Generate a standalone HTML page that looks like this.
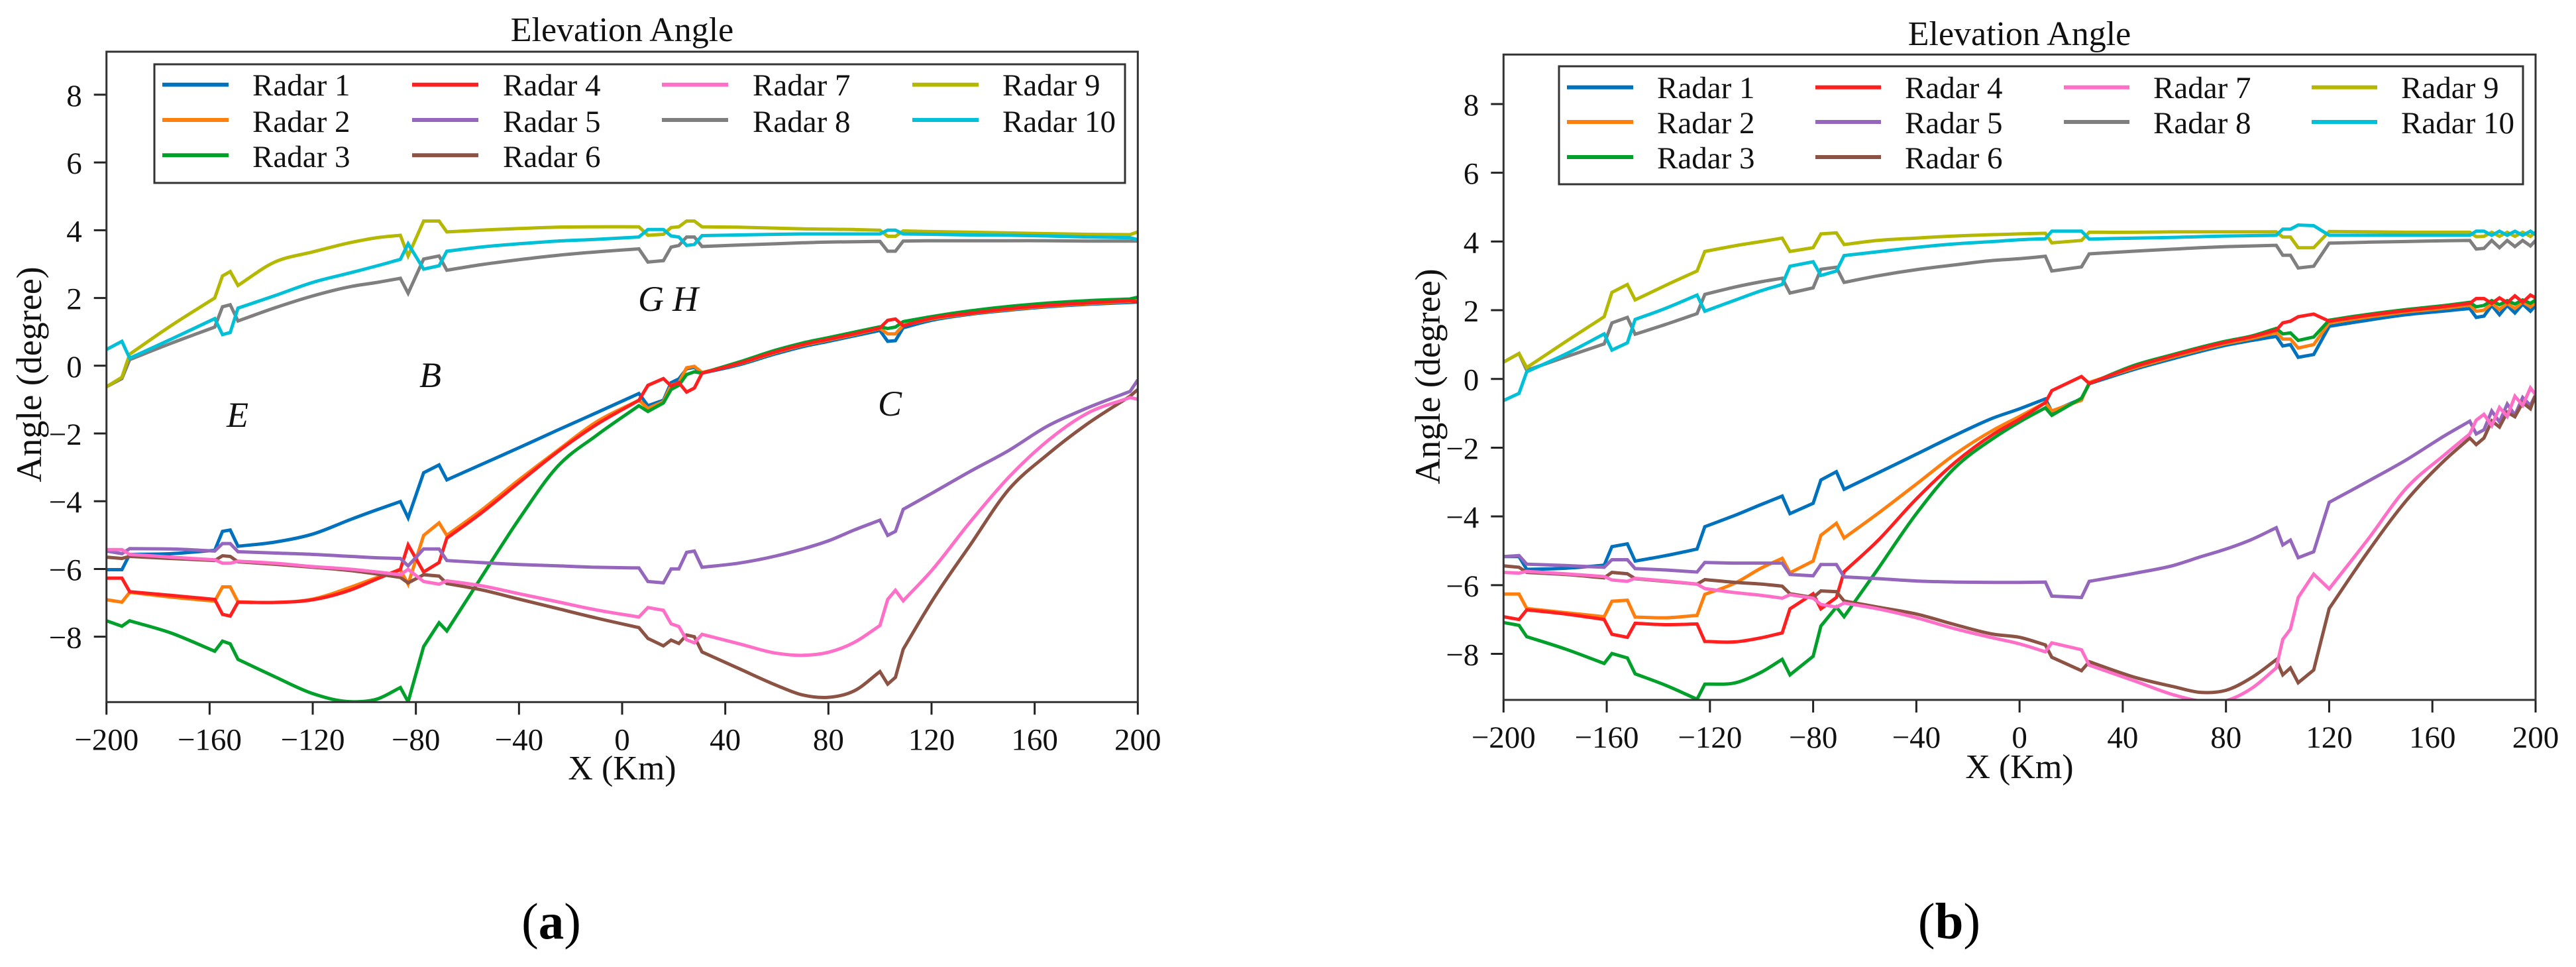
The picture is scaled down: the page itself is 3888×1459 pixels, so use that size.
<!DOCTYPE html>
<html lang="en">
<head>
<meta charset="utf-8">
<title>Elevation Angle</title>
<style>
html,body{margin:0;padding:0;background:#fff;}
svg{display:block;}
text{font-family:"Liberation Serif",serif;fill:#111;}
.tick{font-size:47px;}
.ttl{font-size:52px;text-anchor:middle;}
.leg{font-size:47px;}
.ann{font-size:54px;font-style:italic;}
.cap{font-size:77px;text-anchor:middle;fill:#000;}
.frame{fill:none;stroke:#333;stroke-width:3;}
.legbox{fill:#fff;stroke:#333;stroke-width:3;}
.hd{stroke-width:6;}
</style>
</head>
<body>
<svg id="chart" xmlns="http://www.w3.org/2000/svg" width="3888" height="1459" viewBox="0 0 3888 1459">
<rect width="3888" height="1459" fill="#fff"/>
<defs>
<clipPath id="clip-a"><rect x="160.7" y="78" width="1556.6" height="981.3"/></clipPath>
<clipPath id="clip-b"><rect x="2269.3" y="82.3" width="1557.7" height="973.7"/></clipPath>
</defs>

<g id="panel-a">
<text class="ttl" x="939" y="62">Elevation Angle</text>
<g id="a-ticks"></g>
<g id="a-lines" clip-path="url(#clip-a)"></g>
<rect class="frame" x="160.7" y="78" width="1556.6" height="981.3"/>
<text class="ttl" x="939" y="1176">X (Km)</text>
<text class="ttl" style="font-size:54px" transform="translate(62,565) rotate(-90)">Angle (degree)</text>
<text class="ann" x="342" y="644">E</text>
<text class="ann" x="633" y="584">B</text>
<text class="ann" x="963" y="469">G</text>
<text class="ann" x="1015" y="469">H</text>
<text class="ann" x="1325" y="627">C</text>
<g>
<rect class="legbox" x="233" y="97" width="1465" height="179"/>
<g><line class="hd" x1="245" x2="345" y1="127.7" y2="127.7" stroke="#0072bd"/><text class="leg" x="381" y="144">Radar 1</text></g>
<g><line class="hd" x1="245" x2="345" y1="181" y2="181" stroke="#ff7f0e"/><text class="leg" x="381" y="199">Radar 2</text></g>
<g><line class="hd" x1="245" x2="345" y1="234.3" y2="234.3" stroke="#00a02a"/><text class="leg" x="381" y="252">Radar 3</text></g>
<g><line class="hd" x1="622" x2="722" y1="127.7" y2="127.7" stroke="#ff1f1f"/><text class="leg" x="759" y="144">Radar 4</text></g>
<g><line class="hd" x1="622" x2="722" y1="181" y2="181" stroke="#9467bd"/><text class="leg" x="759" y="199">Radar 5</text></g>
<g><line class="hd" x1="622" x2="722" y1="234.3" y2="234.3" stroke="#8c5244"/><text class="leg" x="759" y="252">Radar 6</text></g>
<g><line class="hd" x1="999" x2="1099" y1="127.7" y2="127.7" stroke="#ff6ec7"/><text class="leg" x="1136" y="144">Radar 7</text></g>
<g><line class="hd" x1="999" x2="1099" y1="181" y2="181" stroke="#7f7f7f"/><text class="leg" x="1136" y="199">Radar 8</text></g>
<g><line class="hd" x1="1377" x2="1477" y1="127.7" y2="127.7" stroke="#b5b800"/><text class="leg" x="1513" y="144">Radar 9</text></g>
<g><line class="hd" x1="1377" x2="1477" y1="181" y2="181" stroke="#00c0d8"/><text class="leg" x="1513" y="199">Radar 10</text></g>
</g>
<text class="cap" x="832" y="1416">(<tspan font-weight="bold">a</tspan>)</text>
</g>

<g id="panel-b">
<text class="ttl" x="3048" y="68">Elevation Angle</text>
<g id="b-ticks"></g>
<g id="b-lines" clip-path="url(#clip-b)"></g>
<rect class="frame" x="2269.3" y="82.3" width="1557.7" height="973.7"/>
<text class="ttl" x="3048" y="1174">X (Km)</text>
<text class="ttl" style="font-size:54px" transform="translate(2173,568) rotate(-90)">Angle (degree)</text>
<g>
<rect class="legbox" x="2353" y="100" width="1455" height="178"/>
<g><line class="hd" x1="2365" x2="2465" y1="131.7" y2="131.7" stroke="#0072bd"/><text class="leg" x="2501" y="148">Radar 1</text></g>
<g><line class="hd" x1="2365" x2="2465" y1="184" y2="184" stroke="#ff7f0e"/><text class="leg" x="2501" y="201">Radar 2</text></g>
<g><line class="hd" x1="2365" x2="2465" y1="237" y2="237" stroke="#00a02a"/><text class="leg" x="2501" y="254">Radar 3</text></g>
<g><line class="hd" x1="2740" x2="2839" y1="131.7" y2="131.7" stroke="#ff1f1f"/><text class="leg" x="2875" y="148">Radar 4</text></g>
<g><line class="hd" x1="2740" x2="2839" y1="184" y2="184" stroke="#9467bd"/><text class="leg" x="2875" y="201">Radar 5</text></g>
<g><line class="hd" x1="2740" x2="2839" y1="237" y2="237" stroke="#8c5244"/><text class="leg" x="2875" y="254">Radar 6</text></g>
<g><line class="hd" x1="3115" x2="3214" y1="131.7" y2="131.7" stroke="#ff6ec7"/><text class="leg" x="3250" y="148">Radar 7</text></g>
<g><line class="hd" x1="3115" x2="3214" y1="184" y2="184" stroke="#7f7f7f"/><text class="leg" x="3250" y="201">Radar 8</text></g>
<g><line class="hd" x1="3489" x2="3588" y1="131.7" y2="131.7" stroke="#b5b800"/><text class="leg" x="3624" y="148">Radar 9</text></g>
<g><line class="hd" x1="3489" x2="3588" y1="184" y2="184" stroke="#00c0d8"/><text class="leg" x="3624" y="201">Radar 10</text></g>
</g>
<text class="cap" x="2942" y="1416">(<tspan font-weight="bold">b</tspan>)</text>
</g>
</svg>

<script>
const xTickValues = [-200,-160,-120,-80,-40,0,40,80,120,160,200];
const yTickValues = [-8,-6,-4,-2,0,2,4,6,8];

const kmA = [-200,-194,-191,-175,-158,-155,-152,-149,-135,-120,-105,-95,-86,-83,-77,-71,-68,-55,-40,-25,-10,6.5,10,16,19,22,25,28,31,45,60,70,80,90,100,103,106,109,120,135,150,165,180,197,200];
const radar1A = [-6.02,-6.02,-5.57,-5.55,-5.45,-4.89,-4.85,-5.33,-5.21,-4.97,-4.53,-4.25,-4.01,-4.49,-3.16,-2.93,-3.37,-2.93,-2.42,-1.9,-1.39,-0.82,-1.18,-1.02,-0.5,-0.39,-0.09,-0.05,-0.22,0.02,0.36,0.56,0.72,0.88,1.04,0.72,0.74,1.12,1.34,1.52,1.64,1.74,1.81,1.87,1.88];
const radar2A = [-6.91,-6.98,-6.69,-6.83,-6.95,-6.53,-6.53,-6.97,-6.99,-6.89,-6.53,-6.25,-6.03,-6.45,-5.01,-4.64,-5.01,-4.29,-3.37,-2.5,-1.66,-1.02,-1.26,-1.06,-0.58,-0.5,-0.06,-0.02,-0.2,0.05,0.4,0.6,0.76,0.92,1.1,0.94,0.94,1.19,1.38,1.54,1.66,1.76,1.83,1.9,1.92];
const radar3A = [-7.53,-7.69,-7.53,-7.89,-8.43,-8.13,-8.21,-8.67,-9.17,-9.68,-9.92,-9.84,-9.5,-9.92,-8.29,-7.59,-7.83,-6.29,-4.53,-2.97,-2.06,-1.18,-1.35,-1.1,-0.7,-0.58,-0.26,-0.18,-0.22,0.1,0.47,0.67,0.83,0.99,1.15,1.1,1.14,1.3,1.45,1.62,1.75,1.85,1.92,1.97,2.02];
const radar4A = [-6.27,-6.27,-6.67,-6.78,-6.9,-7.34,-7.39,-6.98,-6.99,-6.91,-6.61,-6.29,-6.01,-5.29,-6.09,-5.81,-5.09,-4.37,-3.45,-2.54,-1.74,-1.02,-0.58,-0.38,-0.6,-0.5,-0.78,-0.66,-0.22,0.06,0.42,0.62,0.78,0.94,1.115,1.34,1.38,1.18,1.4,1.55,1.68,1.78,1.85,1.92,1.88];
const radar5A = [-5.47,-5.55,-5.4,-5.41,-5.47,-5.25,-5.25,-5.49,-5.53,-5.57,-5.63,-5.67,-5.69,-5.91,-5.41,-5.41,-5.75,-5.81,-5.87,-5.91,-5.95,-5.97,-6.37,-6.41,-6,-6,-5.51,-5.47,-5.95,-5.83,-5.61,-5.41,-5.17,-4.85,-4.56,-5.01,-4.89,-4.24,-3.77,-3.12,-2.5,-1.78,-1.26,-0.76,-0.42];
const radar6A = [-5.65,-5.69,-5.63,-5.69,-5.75,-5.61,-5.63,-5.79,-5.86,-5.95,-6.05,-6.15,-6.25,-6.41,-6.17,-6.21,-6.43,-6.61,-6.89,-7.17,-7.45,-7.73,-8.05,-8.27,-8.1,-8.2,-7.95,-8,-8.45,-8.93,-9.44,-9.72,-9.79,-9.6,-9.03,-9.4,-9.2,-8.37,-6.97,-5.29,-3.65,-2.62,-1.74,-0.9,-0.7];
const radar7A = [-5.43,-5.43,-5.57,-5.65,-5.73,-5.83,-5.83,-5.77,-5.83,-5.93,-6.01,-6.09,-6.17,-6.01,-6.37,-6.45,-6.35,-6.49,-6.73,-6.97,-7.21,-7.42,-7.14,-7.22,-7.62,-7.7,-8.09,-8.18,-7.93,-8.2,-8.49,-8.55,-8.46,-8.17,-7.67,-6.9,-6.63,-6.94,-6.05,-4.61,-3.29,-2.22,-1.42,-0.94,-0.99];
const radar8A = [-0.62,-0.38,0.18,0.66,1.14,1.74,1.8,1.32,1.7,2.06,2.34,2.46,2.58,2.14,3.15,3.24,2.82,2.98,3.13,3.26,3.36,3.45,3.06,3.1,3.5,3.55,3.8,3.8,3.52,3.56,3.6,3.63,3.65,3.66,3.67,3.38,3.38,3.68,3.69,3.69,3.69,3.69,3.68,3.68,3.68];
const radar9A = [-0.62,-0.34,0.34,1.18,2,2.65,2.78,2.37,3.05,3.36,3.64,3.78,3.85,3.24,4.27,4.27,3.95,4,4.05,4.09,4.1,4.1,3.85,3.88,4.08,4.1,4.27,4.27,4.1,4.09,4.06,4.04,4.03,4.02,4,3.82,3.82,3.98,3.96,3.94,3.92,3.9,3.88,3.87,3.95];
const radar10A = [0.48,0.72,0.22,0.78,1.39,0.92,0.98,1.7,2.06,2.46,2.75,2.95,3.14,3.6,2.85,2.95,3.38,3.5,3.6,3.68,3.73,3.8,4.02,4.02,3.83,3.8,3.55,3.58,3.84,3.86,3.88,3.89,3.89,3.89,3.89,4,4,3.89,3.88,3.86,3.85,3.83,3.8,3.78,3.72];

const kmB = [-200,-194,-191,-176,-161,-158,-152,-149,-137,-125,-122,-110,-100,-92,-89,-80,-77,-71,-68,-55,-40,-25,-10,0,10,12.5,24,27,45,60,70,80,90,99.5,102,105,108,114,120,135,150,165,174.5,177,180,183,186,189,192,195,198,200];
const radar1B = [-5.17,-5.17,-5.54,-5.51,-5.42,-4.88,-4.8,-5.3,-5.14,-4.95,-4.3,-3.96,-3.65,-3.41,-3.92,-3.62,-2.94,-2.7,-3.21,-2.74,-2.19,-1.64,-1.13,-0.87,-0.58,-0.95,-0.58,-0.14,0.29,0.6,0.8,0.98,1.12,1.24,0.96,1,0.63,0.71,1.53,1.71,1.87,1.98,2.05,1.79,1.83,2.14,1.87,2.14,1.92,2.18,1.97,2.14];
const radar2B = [-6.26,-6.26,-6.68,-6.8,-6.92,-6.47,-6.44,-6.93,-6.95,-6.88,-6.27,-5.93,-5.5,-5.22,-5.64,-5.3,-4.55,-4.2,-4.63,-3.92,-3.06,-2.19,-1.48,-1.09,-0.69,-0.93,-0.62,-0.1,0.33,0.65,0.85,1.03,1.18,1.35,1.16,1.16,0.9,1,1.63,1.8,1.95,2.06,2.15,1.97,2,2.2,2.02,2.2,2.05,2.24,2.1,2.22];
const radar3B = [-7.09,-7.17,-7.5,-7.86,-8.28,-7.99,-8.12,-8.58,-8.92,-9.32,-8.88,-8.84,-8.53,-8.16,-8.61,-8.07,-7.19,-6.64,-6.92,-5.54,-3.92,-2.58,-1.72,-1.25,-0.84,-1.06,-0.56,-0.14,0.41,0.72,0.92,1.1,1.25,1.47,1.31,1.34,1.12,1.22,1.71,1.88,2.02,2.14,2.23,2.1,2.14,2.28,2.16,2.28,2.18,2.3,2.2,2.3];
const radar4B = [-6.92,-7,-6.72,-6.84,-7,-7.43,-7.52,-7.11,-7.15,-7.13,-7.64,-7.65,-7.53,-7.39,-6.69,-6.25,-6.69,-6.36,-5.61,-4.71,-3.49,-2.43,-1.6,-1.17,-0.69,-0.34,0.07,-0.13,0.37,0.69,0.89,1.07,1.23,1.42,1.63,1.68,1.81,1.89,1.68,1.85,1.99,2.11,2.2,2.34,2.34,2.2,2.36,2.22,2.42,2.23,2.44,2.36];
const radar5B = [-5.17,-5.14,-5.39,-5.43,-5.48,-5.26,-5.26,-5.52,-5.56,-5.62,-5.34,-5.36,-5.36,-5.36,-5.69,-5.73,-5.4,-5.4,-5.76,-5.81,-5.88,-5.91,-5.92,-5.92,-5.91,-6.32,-6.36,-5.89,-5.65,-5.42,-5.18,-4.95,-4.67,-4.33,-4.83,-4.69,-5.2,-5.03,-3.59,-2.98,-2.35,-1.64,-1.23,-1.6,-1.48,-0.93,-1.25,-0.73,-1.05,-0.54,-0.77,-0.46];
const radar6B = [-5.44,-5.48,-5.63,-5.69,-5.79,-5.63,-5.67,-5.81,-5.89,-5.97,-5.84,-5.92,-5.97,-6.03,-6.25,-6.36,-6.17,-6.19,-6.46,-6.64,-6.84,-7.15,-7.43,-7.52,-7.74,-8.1,-8.49,-8.23,-8.69,-8.96,-9.12,-9.06,-8.69,-8.17,-8.61,-8.41,-8.84,-8.47,-6.68,-5.03,-3.53,-2.35,-1.72,-1.91,-1.72,-1.22,-1.4,-0.97,-1.1,-0.69,-0.87,-0.46];
const radar7B = [-5.63,-5.65,-5.6,-5.67,-5.75,-5.85,-5.89,-5.8,-5.88,-5.97,-6.1,-6.22,-6.3,-6.38,-6.28,-6.38,-6.56,-6.64,-6.52,-6.69,-6.95,-7.27,-7.54,-7.71,-7.94,-7.68,-7.88,-8.33,-8.8,-9.2,-9.37,-9.36,-9,-8.41,-7.58,-7.28,-6.36,-5.68,-6.11,-4.67,-3.17,-2.19,-1.6,-1.2,-1.03,-1.36,-0.83,-1.09,-0.5,-0.77,-0.26,-0.46];
const radar8B = [0.49,0.74,0.25,0.64,1.02,1.63,1.79,1.3,1.59,1.9,2.46,2.68,2.83,2.93,2.5,2.65,3.19,3.25,2.81,3,3.18,3.32,3.45,3.5,3.57,3.14,3.26,3.64,3.72,3.78,3.82,3.85,3.87,3.89,3.6,3.6,3.23,3.28,3.95,3.98,4,4.02,4.03,3.78,3.8,4.03,3.82,4.03,3.85,4.03,3.87,4.03];
const radar9B = [0.49,0.74,0.33,1.08,1.81,2.52,2.75,2.3,2.73,3.14,3.71,3.88,4,4.1,3.71,3.82,4.22,4.25,3.91,4.03,4.1,4.16,4.2,4.22,4.24,3.96,4.03,4.27,4.27,4.28,4.28,4.28,4.28,4.28,4.13,4.13,3.82,3.82,4.29,4.28,4.27,4.27,4.27,4.14,4.15,4.27,4.15,4.27,4.15,4.27,4.15,4.27];
const radar10B = [-0.63,-0.42,0.21,0.72,1.31,0.84,1.05,1.73,2.06,2.44,1.97,2.3,2.57,2.75,3.28,3.41,3.01,3.14,3.59,3.7,3.83,3.93,4,4.05,4.08,4.3,4.3,4.07,4.1,4.12,4.14,4.16,4.17,4.18,4.36,4.36,4.48,4.46,4.18,4.18,4.18,4.18,4.18,4.3,4.3,4.18,4.3,4.18,4.3,4.18,4.3,4.2];

const seriesColors = ['#0072bd','#ff7f0e','#00a02a','#ff1f1f','#9467bd','#8c5244','#ff6ec7','#7f7f7f','#b5b800','#00c0d8'];

const NS = 'http://www.w3.org/2000/svg';
const SMOOTH_SPAN = 7; // spans at least this many km wide are curved; shorter spans are kinks

function fmtTick(v){
  return v < 0 ? '\u2212' + Math.abs(v) : String(v);
}

function curvePath(km, vals, xScale, yScale){
  const n = km.length;
  const xs = km.map(xScale);
  const ys = vals.map(yScale);
  const slope = function(i){ return (ys[i + 1] - ys[i]) / (xs[i + 1] - xs[i]); };
  const longSpan = function(i){ return i >= 0 && i < n - 1 && km[i + 1] - km[i] >= SMOOTH_SPAN; };
  let d = 'M' + xs[0].toFixed(1) + ' ' + ys[0].toFixed(1);
  for (let i = 0; i < n - 1; i++) {
    const h = xs[i + 1] - xs[i];
    if (!longSpan(i)) {
      d += ' L' + xs[i + 1].toFixed(1) + ' ' + ys[i + 1].toFixed(1);
      continue;
    }
    let m0 = slope(i);
    let m1 = slope(i);
    if (longSpan(i - 1)) {
      const hp = xs[i] - xs[i - 1];
      m0 = (slope(i - 1) * h + slope(i) * hp) / (h + hp);
    }
    if (longSpan(i + 1)) {
      const hn = xs[i + 2] - xs[i + 1];
      m1 = (slope(i) * hn + slope(i + 1) * h) / (h + hn);
    }
    d += ' C' + (xs[i] + h / 3).toFixed(1) + ' ' + (ys[i] + m0 * h / 3).toFixed(1) +
         ' ' + (xs[i + 1] - h / 3).toFixed(1) + ' ' + (ys[i + 1] - m1 * h / 3).toFixed(1) +
         ' ' + xs[i + 1].toFixed(1) + ' ' + ys[i + 1].toFixed(1);
  }
  return d;
}

function drawPanel(id, rect, yMin, yMax, km, seriesList){
  const xScale = function(v){ return rect.left + (v + 200) / 400 * (rect.right - rect.left); };
  const yScale = function(v){ return rect.bottom - (v - yMin) / (yMax - yMin) * (rect.bottom - rect.top); };
  const ticks = document.getElementById(id + '-ticks');
  const lines = document.getElementById(id + '-lines');

  xTickValues.forEach(function(v){
    const px = xScale(v);
    const t = document.createElementNS(NS, 'line');
    
    
    t.setAttribute('x1', px);
    t.setAttribute('x2', px);
    t.setAttribute('y1', rect.bottom);
    t.setAttribute('y2', rect.bottom + 19);
    t.setAttribute('stroke', '#222');
    t.setAttribute('stroke-width', 3);
    ticks.appendChild(t);
    const l = document.createElementNS(NS, 'text');
    
    
    l.setAttribute('class', 'tick');
    l.setAttribute('x', px);
    l.setAttribute('y', rect.bottom + 72);
    l.setAttribute('text-anchor', 'middle');
    l.textContent = fmtTick(v);
    ticks.appendChild(l);
  });

  yTickValues.forEach(function(v){
    const py = yScale(v);
    const t = document.createElementNS(NS, 'line');
    
    
    t.setAttribute('x1', rect.left - 19);
    t.setAttribute('x2', rect.left);
    t.setAttribute('y1', py);
    t.setAttribute('y2', py);
    t.setAttribute('stroke', '#222');
    t.setAttribute('stroke-width', 3);
    ticks.appendChild(t);
    const l = document.createElementNS(NS, 'text');
    
    
    l.setAttribute('class', 'tick');
    l.setAttribute('x', rect.left - 37);
    l.setAttribute('y', py + 17);
    l.setAttribute('text-anchor', 'end');
    l.textContent = fmtTick(v);
    ticks.appendChild(l);
  });

  seriesList.forEach(function(vals, i){
    const p = document.createElementNS(NS, 'path');
    
    
    p.setAttribute('d', curvePath(km, vals, xScale, yScale));
    p.setAttribute('fill', 'none');
    p.setAttribute('stroke', seriesColors[i]);
    p.setAttribute('stroke-width', 5);
    p.setAttribute('stroke-linejoin', 'miter');
    lines.appendChild(p);
  });
}

drawPanel('a', {left:160.7, right:1717.3, top:78, bottom:1059.3}, -9.93, 9.27, kmA,
  [radar1A,radar2A,radar3A,radar4A,radar5A,radar6A,radar7A,radar8A,radar9A,radar10A]);
drawPanel('b', {left:2269.3, right:3827, top:82.3, bottom:1056}, -9.34, 9.44, kmB,
  [radar1B,radar2B,radar3B,radar4B,radar5B,radar6B,radar7B,radar8B,radar9B,radar10B]);
</script>
</body>
</html>
